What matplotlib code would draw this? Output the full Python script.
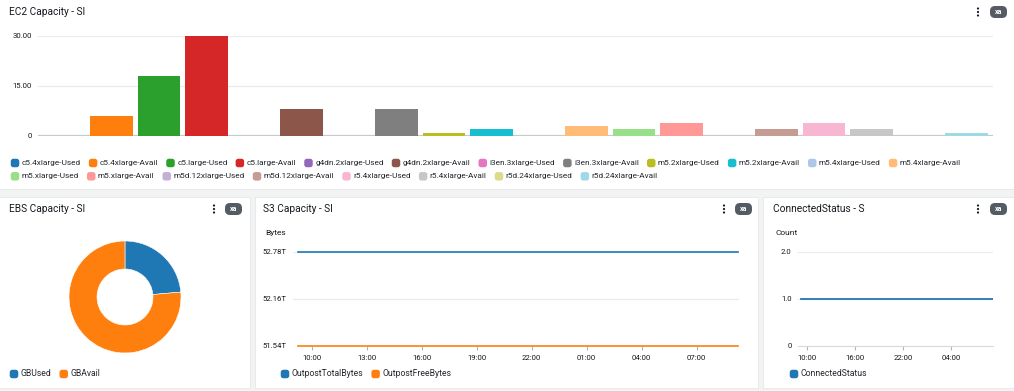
import matplotlib
matplotlib.use('Agg')
import matplotlib.pyplot as plt
from matplotlib.patches import FancyBboxPatch, Rectangle, Circle
from matplotlib.transforms import IdentityTransform
import matplotlib.dates as mdates
import pandas as pd

# ---------------- data ----------------
ec2_labels = ["c5.4xlarge-Used", "c5.4xlarge-Avail", "c5.large-Used", "c5.large-Avail",
              "g4dn.2xlarge-Used", "g4dn.2xlarge-Avail", "i3en.3xlarge-Used", "i3en.3xlarge-Avail",
              "m5.2xlarge-Used", "m5.2xlarge-Avail", "m5.4xlarge-Used", "m5.4xlarge-Avail",
              "m5.xlarge-Used", "m5.xlarge-Avail", "m5d.12xlarge-Used", "m5d.12xlarge-Avail",
              "r5.4xlarge-Used", "r5.4xlarge-Avail", "r5d.24xlarge-Used", "r5d.24xlarge-Avail"]
ec2_values = [0, 6, 18, 30, 0, 8, 0, 8, 1, 2, 0, 3, 2, 4, 0, 2, 4, 2, 0, 1]
ec2_colors = ["#1f77b4", "#ff7f0e", "#2ca02c", "#d62728", "#9467bd", "#8c564b", "#e377c2",
              "#7f7f7f", "#bcbd22", "#17becf", "#aec7e8", "#ffbb78", "#98df8a", "#ff9896",
              "#c5b0d5", "#c49c94", "#f7b6d2", "#c7c7c7", "#dbdb8d", "#9edae5"]
ec2_yticks = [0, 15, 30]
ec2_yticklabels = ["0", "15.00", "30.00"]

ebs_labels = ["GBUsed", "GBAvail"]
ebs_values = [23.6, 76.4]
ebs_colors = ["#1f77b4", "#ff7f0e"]

s3_times = ["2023-06-01 09:15", "2023-06-02 09:15"]
s3_total_tb = [52.78, 52.78]
s3_free_tb = [51.54, 51.54]
s3_yticks = [51.54, 52.16, 52.78]
s3_labels = ["OutpostTotalBytes", "OutpostFreeBytes"]

conn_times = ["2023-06-01 09:15", "2023-06-02 09:15"]
conn_values = [1.0, 1.0]
conn_yticks = [0, 1, 2]
conn_yticklabels = ["0", "1.0", "2.0"]

# ---------------- layout helpers ----------------
W, H = 1014, 391
plt.rcParams['font.family'] = ['Roboto', 'DejaVu Sans']
BG = '#f2f3f3'
TXT = '#16191f'
TICK = '#16191f'
GRID = '#e9ebed'
AXLINE = '#aab7b8'
LEG = '#23272c'

fig = plt.figure(figsize=(W / 100, H / 100), dpi=100, facecolor=BG)
renderer = fig.canvas.get_renderer()


def ax_at(x0, y0, x1, y1):
    return fig.add_axes([x0 / W, 1 - y1 / H, (x1 - x0) / W, (y1 - y0) / H])


def panel(x0, y0, x1, y1):
    fig.add_artist(Rectangle((x0 / W, 1 - y1 / H), (x1 - x0) / W, (y1 - y0) / H,
                             transform=fig.transFigure, facecolor='white',
                             edgecolor='#e4e7ea', lw=0.6, zorder=0))


def ftext(x, y, s, **kw):
    kw.setdefault('va', 'center')
    return fig.text(x / W, 1 - y / H, s, **kw)


def text_width(s, fs):
    t = ftext(0, 0, s, fontsize=fs)
    w = t.get_window_extent(renderer).width
    t.remove()
    return w


# calibrate legend font size so the first legend row spans like the reference
_target = 668.0
_w10 = sum(text_width(s, 10) for s in ec2_labels[:11])
LEG_FS = 10 * _target / _w10


def swatch(xc, yc, color, size=8.5, r=2.6):
    p = FancyBboxPatch((xc - size / 2 + r, H - yc - size / 2 + r), size - 2 * r, size - 2 * r,
                       boxstyle=f"round,pad={r}", transform=IdentityTransform(),
                       facecolor=color, edgecolor='none', zorder=5)
    fig.add_artist(p)


def header(x, y, title, kebab_x, badge_x):
    ftext(x, y, title, fontsize=7.3, color=TXT, ha='left')
    for dy in (-3.5, 0, 3.5):
        fig.add_artist(Circle((kebab_x, H - (y + dy)), 1.1, transform=IdentityTransform(),
                              facecolor='#16191f', edgecolor='none'))
    pill = FancyBboxPatch((badge_x + 5, H - y - 1), 7, 2, boxstyle="round,pad=5",
                          transform=IdentityTransform(), facecolor='#545b64', edgecolor='none')
    fig.add_artist(pill)
    ftext(badge_x + 8.5, y, "xa", fontsize=5.0, color='white', ha='center', fontweight='bold')


def flow_legend(labels, colors, x_start, y_first, row_h, x_max, fs):
    x, y = x_start, y_first
    for lab, col in zip(labels, colors):
        t = ftext(0, 0, lab, fontsize=fs, color=LEG, ha='left')
        w = t.get_window_extent(renderer).width
        total = 11 + w
        if x + total > x_max and x > x_start:
            x = x_start
            y += row_h
        swatch(x + 4, y, col)
        t.set_position(((x + 10.7) / W, 1 - y / H))
        x += total + 8


def style_axes(ax):
    for s in ax.spines.values():
        s.set_visible(False)
    ax.set_facecolor('none')
    ax.tick_params(axis='y', length=0, labelsize=5.6, labelcolor=TICK, pad=4.5)
    ax.tick_params(axis='x', labelsize=5.6, labelcolor=TICK)
    ax.grid(axis='y', color=GRID, lw=0.8)
    ax.set_axisbelow(True)


# ---------------- panels ----------------
panel(-2, -2, W + 2, 189)
panel(-2, 197, 250, 388)
panel(255, 197, 758, 388)
panel(763, 197, W + 2, 388)

header(9, 12, "EC2 Capacity - SI", 978, 990)
header(9, 209, "EBS Capacity - SI", 214, 225)
header(263, 209, "S3 Capacity - SI", 724, 735)
header(773, 209, "ConnectedStatus - S", 978, 990)

# ---------------- EC2 bar chart ----------------
ax = ax_at(38, 36, 993, 136)
style_axes(ax)
xs = list(range(len(ec2_values)))
ax.bar(xs, ec2_values, width=0.9, color=ec2_colors, edgecolor='none', lw=0, zorder=3)
ax.set_xlim(-0.55, 19.56)
ax.set_ylim(0, 30)
ax.set_yticks(ec2_yticks)
ax.set_yticklabels(ec2_yticklabels)
ax.set_xticks([])
ax.axhline(0, color='#c5cbcd', lw=1.6, zorder=2)
flow_legend(ec2_labels, ec2_colors, 11, 163, 13.3, 1000, LEG_FS)

# ---------------- EBS donut ----------------
axd = ax_at(69, 241, 181, 353)
axd.pie(ebs_values, colors=ebs_colors, startangle=90, counterclock=False,
        wedgeprops=dict(width=0.5, edgecolor='white', lw=0.4))
axd.set_xlim(-1, 1)
axd.set_ylim(-1, 1)
axd.set_aspect('equal')
flow_legend(ebs_labels, ebs_colors, 10, 374, 13.5, 245, LEG_FS * 1.05)

# ---------------- S3 line ----------------
t_s3 = pd.to_datetime(s3_times)
axs = ax_at(293, 251.7, 739, 345.7)
style_axes(axs)
axs.plot(t_s3, s3_total_tb, color='#1f77b4', lw=1.2, zorder=3, clip_on=False)
axs.plot(t_s3, s3_free_tb, color='#ff7f0e', lw=1.2, zorder=3, clip_on=False)
axs.set_ylim(s3_yticks[0], s3_yticks[-1])
axs.set_yticks(s3_yticks)
axs.set_yticklabels([f"{v:.2f}T" for v in s3_yticks])
axs.set_xlim(pd.Timestamp("2023-06-01 08:59"), pd.Timestamp("2023-06-02 09:19"))
axs.xaxis.set_major_locator(mdates.HourLocator(byhour=[10, 13, 16, 19, 22, 1, 4, 7]))
axs.xaxis.set_major_formatter(mdates.DateFormatter("%H:%M"))
axs.tick_params(axis='x', length=3, color=AXLINE, pad=4)
ftext(265, 233, "Bytes", fontsize=6.0, color=TXT, ha='left')
flow_legend(s3_labels, ["#1f77b4", "#ff7f0e"], 281, 374, 13.5, 750, LEG_FS * 1.05)

# ---------------- ConnectedStatus line ----------------
t_c = pd.to_datetime(conn_times)
axc = ax_at(798, 251.7, 993, 345.7)
style_axes(axc)
axc.plot(t_c, conn_values, color='#1f77b4', lw=1.3, zorder=3)
axc.set_ylim(0, 2)
axc.set_yticks(conn_yticks)
axc.set_yticklabels(conn_yticklabels)
axc.set_xlim(pd.Timestamp("2023-06-01 08:50"), pd.Timestamp("2023-06-02 09:15"))
axc.xaxis.set_major_locator(mdates.HourLocator(byhour=[10, 16, 22, 4]))
axc.xaxis.set_major_formatter(mdates.DateFormatter("%H:%M"))
axc.tick_params(axis='x', length=3, color=AXLINE, pad=4)
axc.spines['bottom'].set_visible(True)
axc.spines['bottom'].set_color('#d5dbdb')
ftext(776, 233, "Count", fontsize=6.0, color=TXT, ha='left')
flow_legend(["ConnectedStatus"], ["#1f77b4"], 790, 374, 13.5, 1010, LEG_FS * 1.05)

fig.savefig("out.png", dpi=100, facecolor=BG)
